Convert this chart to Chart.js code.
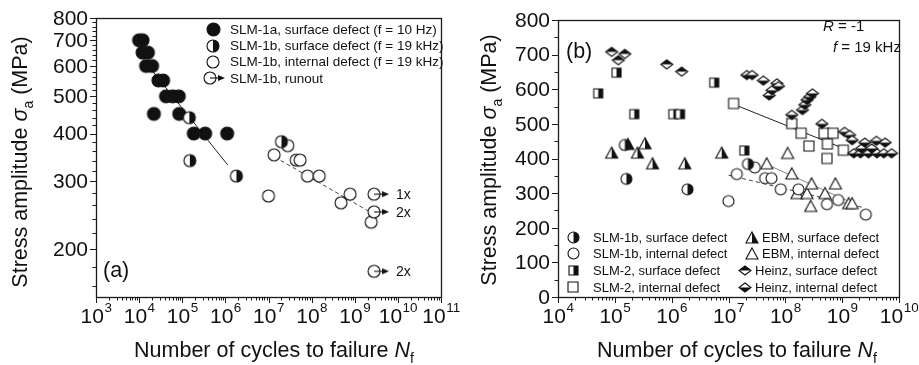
<!DOCTYPE html>
<html><head><meta charset="utf-8">
<script src="https://cdn.jsdelivr.net/npm/chart.js@4.4.1/dist/chart.umd.min.js"></script>
<style>
html,body{margin:0;padding:0;background:#fff;}
#wrap{position:relative;width:919px;height:365px;overflow:hidden;}
#ca{position:absolute;left:0;top:0;width:460px;height:365px;}
#cb{position:absolute;left:460px;top:0;width:459px;height:365px;}
</style></head><body>
<div id="wrap"><canvas id="ca" width="460" height="365"></canvas><canvas id="cb" width="459" height="365"></canvas></div>
<script>
// ---------- tick labels ----------
const xExpA = [3,4,5,6,7,8,9,10,11];
const yTicksA = [200,300,400,500,600,700,800];
const xExpB = [4,5,6,7,8,9,10];
const yTicksB = [0,100,200,300,400,500,600,700,800];

// ---------- panel (a) data: [cycles, stress MPa] ----------
const slm1aSurfA = [[1.0e4,700],[1.2e4,700],[1.2e4,650],[1.6e4,650],[1.45e4,600],[2.0e4,600],[2.8e4,550],[3.6e4,550],[4.2e4,500],[6.0e4,500],[8.3e4,500],[2.2e4,450],[8.5e4,450],[1.85e5,400],[3.4e5,400],[1.1e6,400]];
const slm1bSurfA = [[1.46e5,440],[1.5e5,340],[1.8e6,310],[2.0e7,381]];
const slm1bIntA = [[1.0e7,275],[1.35e7,352],[2.8e7,372],[4.4e7,341],[5.4e7,341],[8.0e7,310],[1.5e8,310],[4.8e8,264],[7.8e8,278],[2.4e9,235]];
const runoutA = [[2.8e9,278],[2.8e9,250],[2.8e9,175]];
const runoutLabelsA = ['1x','2x','2x'];
const fitSolidA = [[1.3e4,620],[1.14e6,331]];
const fitDashA = [[1.0e7,355],[2.7e9,247]];

// ---------- panel (b) data ----------
const slm1bSurfB = [[1.5e5,439],[1.6e5,341],[1.9e6,311],[2.2e7,384]];
const slm1bIntB = [[1.0e7,277],[1.4e7,355],[2.9e7,374],[4.4e7,343],[5.7e7,343],[8.3e7,311],[1.7e8,311],[5.4e8,268],[8.5e8,280],[2.6e9,238]];
const slm2SurfB = [[5.1e4,588],[1.07e5,648],[2.2e5,528],[1.07e6,528],[1.4e6,528],[5.6e6,619],[1.9e7,423]];
const slm2IntB = [[1.23e7,559],[1.3e8,501],[1.9e8,473],[2.6e8,436],[4.8e8,473],[6.9e8,473],[5.5e8,442],[5.4e8,400],[1.05e9,424]];
const ebmSurfB = [[8.8e4,417],[1.7e5,442],[2.5e5,417],[3.4e5,444],[4.6e5,386],[1.7e6,386],[7.6e6,417]];
const ebmIntB = [[4.7e7,386],[1.1e8,416],[1.3e8,357],[1.6e8,300],[2.4e8,300],[2.8e8,263],[2.9e8,328],[5.0e8,300],[7.6e8,328],[1.3e9,271],[1.5e9,271]];
const heinzSurfB = [[8.8e4,708],[1.15e5,684],[1.5e5,702],[8.2e5,672],[1.5e6,651]];
const heinzIntB = [[2.1e7,641],[2.6e7,641],[4.1e7,625],[5.2e7,582],[5.8e7,597],[7.1e7,617],[7.6e7,609],[1.3e8,526],[2.0e8,540],[2.2e8,555],[2.4e8,569],[2.7e8,578],[3.0e8,588],[4.4e8,500],[1.1e9,477],[1.35e9,468],[1.5e9,453],[1.6e9,415],[2.1e9,415],[2.9e9,415],[4.1e9,415],[5.4e9,415],[7.4e9,415],[2.2e9,429],[3.3e9,429],[2.5e9,446],[4.0e9,451],[5.7e9,446]];
const fitSlm2B = [[1.3e7,555],[1.1e9,428]];
const fitEbmB = [[4.7e7,383],[1.5e9,272]];
const fitSlm1bB = [[1.0e7,352],[2.4e9,258]];

// ---------- helpers ----------
const FONT = '"Liberation Sans", Arial, Helvetica, sans-serif';
const INK = '#111';
const pts = a => a.map(([x,y]) => ({x, y}));

function marker(shape, fill, w, h) {
  const pad = 2;
  const c = document.createElement('canvas');
  c.width = Math.ceil(w) + pad*2; c.height = Math.ceil(h) + pad*2;
  const g = c.getContext('2d');
  const cx = c.width/2, cy = c.height/2;
  const path = () => {
    g.beginPath();
    if (shape === 'circle') g.arc(cx, cy, w/2, 0, Math.PI*2);
    else if (shape === 'square') g.rect(cx-w/2, cy-h/2, w, h);
    else if (shape === 'triangle') { g.moveTo(cx, cy-h/2); g.lineTo(cx+w/2, cy+h/2); g.lineTo(cx-w/2, cy+h/2); g.closePath(); }
    else if (shape === 'diamond') { g.moveTo(cx, cy-h/2); g.lineTo(cx+w/2, cy); g.lineTo(cx, cy+h/2); g.lineTo(cx-w/2, cy); g.closePath(); }
  };
  path(); g.fillStyle = '#fff'; g.fill();
  if (fill !== 'none') {
    g.save(); g.beginPath();
    if (fill === 'full') g.rect(0, 0, c.width, c.height);
    else if (fill === 'right') g.rect(cx, 0, c.width, c.height);
    else if (fill === 'top') g.rect(0, 0, c.width, cy);
    else if (fill === 'bottom') g.rect(0, cy, c.width, c.height);
    g.clip(); path(); g.fillStyle = INK; g.fill(); g.restore();
  }
  path(); g.lineWidth = 1.1; g.strokeStyle = INK; g.stroke();
  return c;
}
function runoutMarker(r, len) {
  const c = document.createElement('canvas');
  const W = 2*(r+len)+4, H = 2*r+4;
  c.width = W; c.height = H;
  const g = c.getContext('2d'); const cx = W/2, cy = H/2;
  g.beginPath(); g.arc(cx, cy, r, 0, Math.PI*2); g.fillStyle = '#fff'; g.fill();
  g.lineWidth = 1.1; g.strokeStyle = INK; g.stroke();
  g.beginPath(); g.moveTo(cx, cy); g.lineTo(cx+r+len-5, cy); g.stroke();
  g.beginPath(); g.moveTo(cx+r+len, cy); g.lineTo(cx+r+len-7, cy-3); g.lineTo(cx+r+len-7, cy+3); g.closePath();
  g.fillStyle = INK; g.fill();
  return c;
}

// markers
const mA = {
  full: marker('circle','full',13,13),
  half: marker('circle','right',12,12),
  open: marker('circle','none',12,12),
  run: runoutMarker(6, 9)
};
const mB = {
  cHalf: marker('circle','right',11,11),
  cOpen: marker('circle','none',11,11),
  sHalf: marker('square','right',9,9),
  sOpen: marker('square','none',10,10),
  tHalf: marker('triangle','right',12,11),
  tOpen: marker('triangle','none',12,11),
  dTop: marker('diamond','top',12,9),
  dBot: marker('diamond','bottom',12,9)
};

function ptSet(label, data, style) {
  return { label, data: pts(data), pointStyle: style, pointRadius: 5, pointHoverRadius: 5, showLine: false };
}
function lineSet(data, color, dash, width) {
  return { label: '', data: pts(data), showLine: true, pointRadius: 0, borderColor: color, borderWidth: width || 1, borderDash: dash || [], fill: false };
}

function fontOf(s, size) {
  const sz = s.sub || s.sup ? size*0.65 : size;
  return (s.it ? 'italic ' : '') + sz + 'px ' + FONT;
}
function richWidth(ctx, segs, size) {
  let w = 0;
  for (const s of segs) { ctx.font = fontOf(s, size); w += ctx.measureText(s.t).width; }
  return w;
}
function drawRich(ctx, segs, x, y, size, align) {
  const w = richWidth(ctx, segs, size);
  let cx = align === 'center' ? x - w/2 : x;
  ctx.textAlign = 'left'; ctx.textBaseline = 'alphabetic';
  for (const s of segs) {
    ctx.font = fontOf(s, size);
    const dy = s.sub ? size*0.28 : (s.sup ? -size*0.5 : 0);
    ctx.fillText(s.t, cx, y + dy);
    cx += ctx.measureText(s.t).width;
  }
}
const xTitle = [{t:'Number of cycles to failure '},{t:'N',it:true},{t:'f',sub:true}];
const yTitle = [{t:'Stress amplitude '},{t:'σ',it:true},{t:'a',sub:true},{t:' (MPa)'}];
const TITLE = 21.5, TS = 21;

function axesPlugin(cfg) {
  return {
    id: 'axes_' + cfg.id,
    afterDraw(chart) {
      const ctx = chart.ctx;
      const {left, right, top, bottom} = chart.chartArea;
      const xs = chart.scales.x, ys = chart.scales.y;
      const r = v => Math.round(v) + 0.5;
      ctx.save();
      ctx.strokeStyle = '#1a1a1a'; ctx.lineWidth = 1.3;
      ctx.strokeRect(r(left), r(top), Math.round(right-left), Math.round(bottom-top));
      ctx.lineWidth = 1;
      ctx.beginPath();
      const e0 = cfg.xExp[0], e1 = cfg.xExp[cfg.xExp.length-1];
      for (let e = e0; e <= e1; e++) {
        const px = r(xs.getPixelForValue(Math.pow(10, e)));
        ctx.moveTo(px, bottom); ctx.lineTo(px, bottom + 6);
        if (e < e1) for (let m = 2; m <= 9; m++) {
          const p = r(xs.getPixelForValue(m*Math.pow(10, e)));
          ctx.moveTo(p, bottom); ctx.lineTo(p, bottom + 3.5);
        }
      }
      for (const v of cfg.yTicks) { const py = r(ys.getPixelForValue(v)); ctx.moveTo(left, py); ctx.lineTo(left - 6, py); }
      for (const v of cfg.yMinor) { const py = r(ys.getPixelForValue(v)); ctx.moveTo(left, py); ctx.lineTo(left - 3.5, py); }
      ctx.stroke();
      ctx.fillStyle = INK;
      // x tick labels 10^n
      for (const e of cfg.xExp) {
        const px = xs.getPixelForValue(Math.pow(10, e));
        ctx.font = TS + 'px ' + FONT; const w1 = ctx.measureText('10').width;
        ctx.font = (TS*0.64) + 'px ' + FONT; const w2 = ctx.measureText(String(e)).width;
        const sx = px - (w1 + w2)/2;
        ctx.textAlign = 'left'; ctx.textBaseline = 'alphabetic';
        ctx.font = TS + 'px ' + FONT; ctx.fillText('10', sx, bottom + 26);
        ctx.font = (TS*0.64) + 'px ' + FONT; ctx.fillText(String(e), sx + w1 + 0.5, bottom + 15);
      }
      // y tick labels
      ctx.font = TS + 'px ' + FONT; ctx.textAlign = 'right'; ctx.textBaseline = 'middle';
      for (const v of cfg.yTicks) ctx.fillText(String(v), left - 8, ys.getPixelForValue(v) + 1);
      // titles
      drawRich(ctx, xTitle, cfg.xTitleX, cfg.xTitleY, TITLE, 'center');
      ctx.save(); ctx.translate(cfg.yTitleX, cfg.yTitleY); ctx.rotate(-Math.PI/2);
      drawRich(ctx, yTitle, 0, 0, TITLE, 'center'); ctx.restore();
      cfg.extra && cfg.extra(ctx, chart);
      ctx.restore();
    }
  };
}

function legendRow(ctx, img, mx, y, text, tx, size) {
  ctx.drawImage(img, Math.round(mx - img.width/2), Math.round(y - img.height/2));
  ctx.font = size + 'px ' + FONT; ctx.textAlign = 'left'; ctx.textBaseline = 'middle';
  ctx.fillStyle = INK; ctx.fillText(text, tx, y + 1);
}

const common = (xmin, xmax, ylog, ymin, ymax, pad) => ({
  responsive: false, animation: false, devicePixelRatio: 1,
  layout: { padding: pad },
  plugins: { legend: { display: false }, tooltip: { enabled: false } },
  events: [],
  scales: {
    x: { type: 'logarithmic', min: xmin, max: xmax, display: false },
    y: { type: ylog ? 'logarithmic' : 'linear', min: ymin, max: ymax, display: false }
  }
});

// ---------- chart (a) ----------
const yMinorA = []; for (let v = 160; v <= 780; v += 20) if (v % 100 !== 0) yMinorA.push(v);
new Chart(document.getElementById('ca'), {
  type: 'scatter',
  data: { datasets: [
    ptSet('SLM-1b, runout', runoutA, mA.run),
    ptSet('SLM-1b, surface defect (f = 19 kHz)', slm1bSurfA, mA.half),
    ptSet('SLM-1b, internal defect (f = 19 kHz)', slm1bIntA, mA.open),
    ptSet('SLM-1a, surface defect (f = 10 Hz)', slm1aSurfA, mA.full),
    lineSet(fitSolidA, '#222', [], 1),
    lineSet(fitDashA, '#444', [4,3], 1)
  ]},
  options: common(1e3, 1e11, true, 150, 800, {left: 96, top: 18, right: 19, bottom: 68}),
  plugins: [axesPlugin({
    id: 'a', xExp: xExpA, yTicks: yTicksA, yMinor: yMinorA,
    xTitleX: 274, xTitleY: 357, yTitleX: 27, yTitleY: 162,
    extra(ctx, chart) {
      const xs = chart.scales.x, ys = chart.scales.y;
      ctx.font = '14px ' + FONT; ctx.textAlign = 'left'; ctx.textBaseline = 'middle'; ctx.fillStyle = INK;
      runoutA.forEach((p, i) => ctx.fillText(runoutLabelsA[i], xs.getPixelForValue(p[0]) + 22, ys.getPixelForValue(p[1]) + 1));
      ctx.font = '21.5px ' + FONT; ctx.fillText('(a)', 103, 271);
      legendRow(ctx, mA.full, 213, 29.5, 'SLM-1a, surface defect (f = 10 Hz)', 230, 13.5);
      legendRow(ctx, mA.half, 213, 45.6, 'SLM-1b, surface defect (f = 19 kHz)', 230, 13.5);
      legendRow(ctx, mA.open, 213, 61.7, 'SLM-1b, internal defect (f = 19 kHz)', 230, 13.5);
      legendRow(ctx, mA.run, 210, 77.8, 'SLM-1b, runout', 230, 13.5);
    }
  })]
});

// ---------- chart (b) ----------
const yMinorB = []; for (let v = 50; v < 800; v += 100) yMinorB.push(v);
new Chart(document.getElementById('cb'), {
  type: 'scatter',
  data: { datasets: [
    ptSet('SLM-1b, surface defect', slm1bSurfB, mB.cHalf),
    ptSet('EBM, surface defect', ebmSurfB, mB.tHalf),
    ptSet('SLM-1b, internal defect', slm1bIntB, mB.cOpen),
    ptSet('EBM, internal defect', ebmIntB, mB.tOpen),
    ptSet('SLM-2, surface defect', slm2SurfB, mB.sHalf),
    ptSet('Heinz, internal defect', heinzIntB, mB.dBot),
    ptSet('SLM-2, internal defect', slm2IntB, mB.sOpen),
    ptSet('Heinz, surface defect', heinzSurfB, mB.dTop),
    lineSet(fitSlm2B, '#222', [], 1),
    lineSet(fitEbmB, '#888', [], 1),
    lineSet(fitSlm1bB, '#444', [4,3], 1)
  ]},
  options: common(1e4, 1e10, false, 0, 800, {left: 98, top: 20, right: 20, bottom: 68}),
  plugins: [axesPlugin({
    id: 'b', xExp: xExpB, yTicks: yTicksB, yMinor: yMinorB,
    xTitleX: 277, xTitleY: 357, yTitleX: 36, yTitleY: 160,
    extra(ctx) {
      ctx.fillStyle = INK; ctx.textAlign = 'left'; ctx.textBaseline = 'middle';
      ctx.font = '21.5px ' + FONT; ctx.fillText('(b)', 106, 52);
      ctx.textBaseline = 'alphabetic';
      drawRich(ctx, [{t:'R',it:true},{t:' = -1'}], 363, 31, 15, 'left');
      drawRich(ctx, [{t:'f',it:true},{t:' = 19 kHz'}], 373, 52, 15, 'left');
      const S = 13;
      legendRow(ctx, mB.cHalf, 113, 237.3, 'SLM-1b, surface defect', 133, S);
      legendRow(ctx, mB.cOpen, 113, 253.7, 'SLM-1b, internal defect', 133, S);
      legendRow(ctx, mB.sHalf, 113, 270.3, 'SLM-2, surface defect', 133, S);
      legendRow(ctx, mB.sOpen, 113, 287, 'SLM-2, internal defect', 133, S);
      legendRow(ctx, mB.tHalf, 292, 237.3, 'EBM, surface defect', 302, S);
      legendRow(ctx, mB.tOpen, 292, 253.7, 'EBM, internal defect', 302, S);
      legendRow(ctx, mB.dTop, 285, 270.3, 'Heinz, surface defect', 295, S);
      legendRow(ctx, mB.dBot, 285, 287, 'Heinz, internal defect', 295, S);
    }
  })]
});
</script>
</body></html>
